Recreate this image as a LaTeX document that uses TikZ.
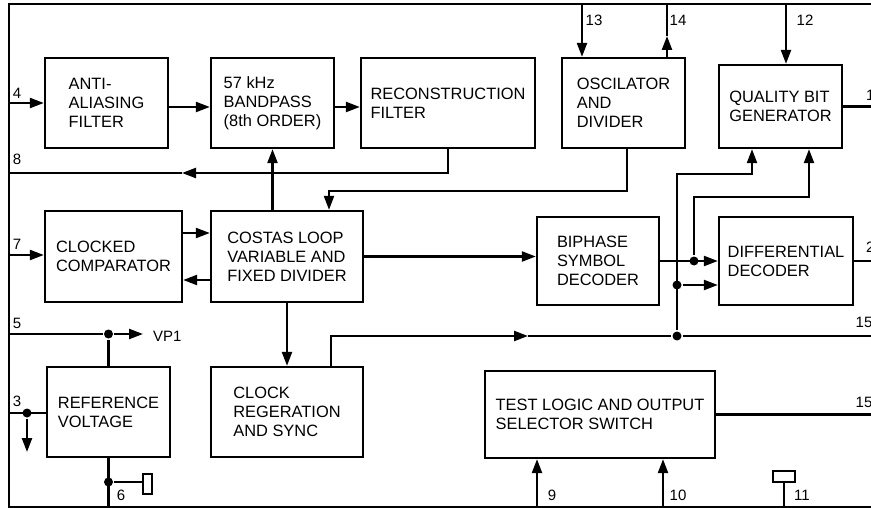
\documentclass[tikz,border=0pt]{standalone}
\usepackage{fontspec}
\setmainfont{Liberation Sans}
\usetikzlibrary{arrows.meta,positioning}

\begin{document}
\begin{tikzpicture}[x=1pt, y=-1pt, line width=2.3pt,
    font=\fontsize{16.4}{19}\selectfont,
    blk/.style={draw, align=left, inner sep=0pt},
    arr/.style={-{Triangle[length=14pt,width=10pt]}},
    dot/.style={circle, fill, inner sep=0pt, minimum size=9pt},
    pin/.style={font=\fontsize{15}{18}\selectfont, inner sep=0pt},
    pad/.style={draw, inner sep=0pt}]
  \useasboundingbox (0,0) rectangle (871,508);
  \clip (0,0) rectangle (871,508);

  \coordinate (fr) at (880,4);
  \coordinate (ftl) at (9,4);
  \coordinate (fbl) at (9,507);
  \coordinate (fbr) at (880,507);
  \draw (fr) -- (ftl) -- (fbl) -- (fbr);

  \node[blk, minimum width=123pt, minimum height=90pt] (aaf) at (106.5,103) {ANTI-\\ALIASING\\FILTER};
  \node[blk, minimum width=123pt, minimum height=90pt] (bpf) at (272.5,103) {57 kHz\\BANDPASS\\(8th ORDER)};
  \node[blk, minimum width=174pt, minimum height=90pt] (rcf) at (448,103) {RECONSTRUCTION\\FILTER};
  \node[blk, minimum width=123pt, minimum height=90pt] (osc) at (623.5,103) {OSCILATOR\\AND\\DIVIDER};
  \node[blk, minimum width=123pt, minimum height=83pt] (qbg) at (780.5,106.5) {QUALITY BIT\\GENERATOR};
  \node[blk, minimum width=137pt, minimum height=91pt] (cmp) at (113.5,256.5) {CLOCKED\\COMPARATOR};
  \node[blk, minimum width=152pt, minimum height=91pt] (cst) at (287,256.5) {COSTAS LOOP\\VARIABLE AND\\FIXED DIVIDER};
  \node[blk, minimum width=122pt, minimum height=88pt] (bsd) at (598,261) {BIPHASE\\SYMBOL\\DECODER};
  \node[blk, minimum width=134pt, minimum height=88pt] (dfd) at (786,261) {DIFFERENTIAL\\DECODER};
  \node[blk, minimum width=123pt, minimum height=90pt] (ref) at (108.5,412) {REFERENCE\\VOLTAGE};
  \node[blk, minimum width=152pt, minimum height=90pt] (clk) at (287,412) {CLOCK\\REGERATION\\AND SYNC};
  \node[blk, minimum width=230pt, minimum height=87pt] (tst) at (600,414.5) {TEST LOGIC AND OUTPUT\\SELECTOR SWITCH};

  \coordinate (p4) at (9,103);
  \draw[arr] (p4) -- (aaf.west);
  \draw[arr] ([yshift=-4pt]aaf.east) -- ([yshift=-4pt]bpf.west);
  \draw[arr] ([yshift=-4pt]bpf.east) -- ([yshift=-4pt]rcf.west);

  \coordinate (p8) at (9,173);
  \coordinate (a8) at (182,173);
  \draw[arr] (rcf.south) |- (a8);
  \draw (a8) -- (p8);

  \coordinate (o1) at (329,191);
  \draw[arr] ([xshift=3.5pt]osc.south) |- (o1) -- (o1 |- cst.north);
  \draw[arr] (cst.north -| bpf.south) -- (bpf.south);

  \coordinate (p7) at (9,255);
  \draw[arr] (p7) -- (p7 -| cmp.west);
  \draw[arr] ([yshift=23.5pt]cmp.east) -- ([yshift=23.5pt]cst.west);
  \draw[arr] ([yshift=-23.5pt]cst.west) -- ([yshift=-23.5pt]cmp.east);
  \draw[arr] (cst.east) -- (cst.east -| bsd.west);
  \draw[arr] (cst.south) -- (clk.north);

  \coordinate (a15) at (528,336);
  \node[dot] (j15) at (677,336) {};
  \node[dot] (jd) at (677,285) {};
  \node[dot] (jb) at (694,261) {};
  \coordinate (p15) at (880,336);
  \draw[arr] ([xshift=44pt]clk.north) |- (a15);
  \draw (a15) -- (j15) -- (p15);
  \coordinate (q1) at (752,174);
  \draw[arr] (j15) |- (q1) -- (q1 |- qbg.south);
  \draw[arr] (jd) -- (jd -| dfd.west);
  \draw[arr] (bsd.east) -- (dfd.west);
  \coordinate (q2) at (809,197);
  \draw[arr] (jb) |- (q2) -- (q2 |- qbg.south);

  \coordinate (p1) at (880,106.5);
  \coordinate (p2) at (880,261);
  \coordinate (p15b) at (880,414.5);
  \draw (qbg.east) -- (p1);
  \draw (dfd.east) -- (p2);
  \draw (tst.east) -- (p15b);

  \coordinate (p13) at (582,4);
  \coordinate (p14) at (667,4);
  \coordinate (a14) at (667,36);
  \coordinate (p12) at (786,4);
  \draw[arr] (p13) -- (p13 |- osc.north);
  \draw[arr] (p14 |- osc.north) -- (a14);
  \draw (a14) -- (p14);
  \draw[arr] (p12) -- (p12 |- qbg.north);

  \coordinate (p5) at (9,334);
  \node[dot] (jv) at (108.5,334) {};
  \coordinate (av) at (143,334);
  \node[pin, anchor=west] (vp1) at (152,336) {VP1};
  \draw (p5) -- (jv);
  \draw[arr] (jv) -- (av);
  \draw (ref.north) -- (jv);

  \coordinate (p3) at (9,413);
  \node[dot] (j3) at (27,413) {};
  \coordinate (a3) at (27,452);
  \draw (p3) -- (p3 -| ref.west);
  \draw[arr] (j3) -- (a3);

  \coordinate (p6) at (108.5,507);
  \node[dot] (j6) at (108.5,482) {};
  \node[pad, minimum width=9.5pt, minimum height=20pt] (pad6) at (147.5,484) {};
  \draw (ref.south) -- (p6);
  \draw (j6) -- (j6 -| pad6.west);

  \coordinate (p9) at (537,507);
  \coordinate (p10) at (663,507);
  \draw[arr] (p9) -- (p9 |- tst.south);
  \draw[arr] (p10) -- (p10 |- tst.south);

  \coordinate (p11) at (784,507);
  \node[pad, minimum width=22pt, minimum height=11pt] (pad11) at (784,476.5) {};
  \draw (p11) -- (pad11.south);

  \node[pin] (l4) at (17,93) {4};
  \node[pin] (l8) at (17,159) {8};
  \node[pin] (l7) at (17,244) {7};
  \node[pin] (l5) at (17,323) {5};
  \node[pin] (l3) at (17,401) {3};
  \node[pin] (l6) at (121,495) {6};
  \node[pin] (l9) at (552,495) {9};
  \node[pin] (l10) at (678,495) {10};
  \node[pin] (l11) at (802,495) {11};
  \node[pin] (l13) at (594,20) {13};
  \node[pin] (l14) at (678,20) {14};
  \node[pin] (l12) at (805,20) {12};
  \node[pin] (l15a) at (864,322) {15};
  \node[pin] (l15b) at (864,402) {15};
  \node[pin, anchor=west] (l1) at (865,95) {1};
  \node[pin, anchor=west] (l2) at (865,247) {2};
\end{tikzpicture}
\end{document}
